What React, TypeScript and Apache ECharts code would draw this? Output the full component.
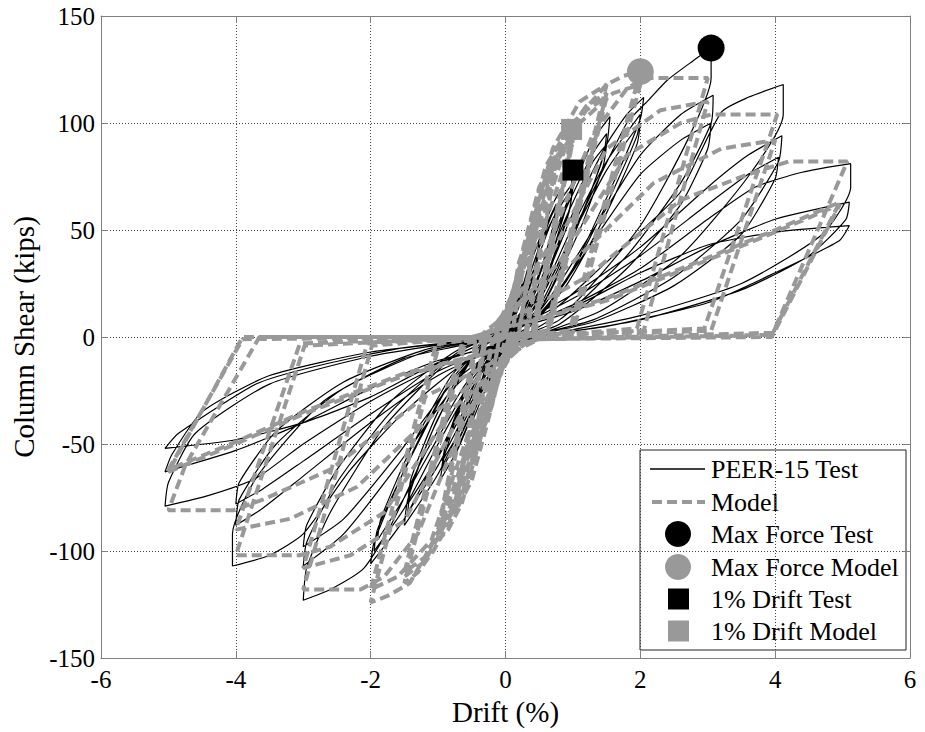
import React, { useEffect, useRef } from 'react';
import * as echarts from 'echarts';

// ---------- Data (drift %, column shear kips) ----------
const xTicks = [-6, -4, -2, 0, 2, 4, 6];
const yTicks = [-150, -100, -50, 0, 50, 100, 150];

const test025 = [[0,0],[0.1,12],[0.25,25],[0.2,16],[0.05,2],[-0.1,-10],[-0.25,-22],[-0.2,-14],[-0.05,-2]];
const test050 = [[0.15,12],[0.35,34],[0.5,45],[0.45,35],[0.2,8],[0,-1],[-0.2,-17],[-0.5,-40],[-0.45,-31],[-0.2,-6],[0,0],
  [0.2,15],[0.5,42],[0.45,32],[0.15,5],[-0.15,-10],[-0.5,-38],[-0.45,-29],[-0.15,-4]];
const test075 = [[0.1,8],[0.4,38],[0.75,62],[0.7,51],[0.35,15],[0,0],[-0.3,-22],[-0.75,-55],[-0.7,-45],[-0.3,-12],[0,0],
  [0.2,14],[0.5,42],[0.75,58],[0.7,47],[0.3,12],[0,0],[-0.35,-25],[-0.75,-52],[-0.7,-42],[-0.3,-10]];
const test100 = [[0,2],[0.3,28],[0.7,62],[1.0,78],[0.95,66],[0.5,22],[0.1,2],[-0.3,-22],[-0.7,-52],[-0.97,-67],[-0.9,-55],[-0.5,-18],[-0.1,-2],
  [0.3,25],[0.7,58],[1.0,72],[0.95,60],[0.5,20],[0.1,1],[-0.35,-24],[-0.7,-48],[-0.95,-62],[-0.88,-50],[-0.45,-15],[-0.1,-1],
  [0.3,22],[0.7,55],[1.0,70],[0.94,58],[0.5,18],[0.1,0],[-0.4,-26],[-0.75,-48],[-0.94,-58],[-0.86,-47],[-0.45,-14],[-0.1,-1]];
const test150 = [[0.3,15],[0.9,62],[1.3,92],[1.55,103],[1.5,90],[1.2,62],[0.6,18],[0.1,0],[-0.4,-26],[-1.0,-64],[-1.5,-88],[-1.45,-76],[-1.1,-45],[-0.5,-10],[0,-1],
  [0.3,14],[0.9,60],[1.3,86],[1.5,95],[1.45,84],[1.1,55],[0.5,14],[0,-2],[-0.5,-30],[-1.0,-60],[-1.45,-82],[-1.4,-70],[-1.0,-38],[-0.4,-6],
  [0.3,12],[0.9,56],[1.3,82],[1.5,90],[1.45,80],[1.1,50],[0.5,12],[0,-2],[-0.5,-28],[-1.0,-56],[-1.45,-78],[-1.4,-66],[-1.0,-35],[-0.4,-5]];
const test200 = [[0.4,15],[1.0,58],[1.5,90],[1.8,104],[2.05,112],[2.0,102],[1.6,72],[1.0,32],[0.4,6],[0,-2],[-0.5,-24],[-1.0,-55],[-1.5,-85],[-1.8,-98],[-2.0,-106],[-1.95,-96],[-1.5,-62],[-0.9,-25],[-0.3,-4],
  [0.4,13],[1.0,52],[1.5,82],[2.0,104],[1.95,94],[1.5,62],[0.9,26],[0.3,4],[0,-2],[-0.5,-22],[-1.0,-50],[-1.5,-80],[-1.95,-100],[-1.9,-90],[-1.4,-56],[-0.8,-20],[-0.3,-3],
  [0.4,12],[1.0,48],[1.5,78],[2.0,100],[1.95,90],[1.5,58],[0.9,24],[0.3,3],[0,-2],[-0.5,-20],[-1.0,-47],[-1.5,-75],[-1.9,-95],[-1.85,-85],[-1.4,-52],[-0.8,-18],[-0.3,-3]];
const test300 = [[0.5,18],[1.2,62],[1.8,100],[2.1,110],[2.4,120],[2.78,129],[3.05,135],[3.05,121],[2.7,92],[2.0,52],[1.0,15],[0.3,1],[-0.5,-18],[-1.2,-55],[-1.7,-88],[-2.1,-108],[-2.6,-118],[-3.0,-123],[-2.95,-108],[-2.6,-82],[-1.8,-42],[-0.8,-10],[-0.2,-1],
  [0.5,12],[1.3,50],[2.0,85],[2.6,104],[3.08,113],[3.05,100],[2.6,72],[1.8,38],[0.8,8],[0,-3],[-0.8,-25],[-1.6,-60],[-2.4,-92],[-3.0,-107],[-2.95,-96],[-2.5,-68],[-1.7,-35],[-0.7,-7],
  [0.5,10],[1.3,45],[2.0,76],[2.6,92],[3.05,100],[3.0,88],[2.6,62],[1.8,32],[0.8,6],[0,-3],[-0.8,-22],[-1.6,-55],[-2.4,-85],[-3.0,-98],[-2.95,-88],[-2.5,-62],[-1.7,-30],[-0.7,-6]];
const test400 = [[0.6,10],[1.5,35],[2.2,55],[2.6,68],[3.2,105],[3.6,112],[4.12,118],[4.12,104],[3.6,75],[2.6,38],[1.4,12],[0.3,-1],[-0.6,-12],[-1.5,-35],[-2.3,-62],[-3.0,-92],[-3.5,-102],[-4.05,-107],[-4.05,-92],[-3.7,-66],[-2.7,-30],[-1.5,-10],[-0.3,-1],
  [1.0,20],[2.0,42],[3.0,70],[3.6,85],[4.1,94],[4.05,82],[3.5,55],[2.5,28],[1.3,8],[0.2,-1],[-1.0,-18],[-2.0,-40],[-3.0,-65],[-3.6,-80],[-4.0,-88],[-3.95,-76],[-3.4,-50],[-2.4,-24],[-1.2,-7],[-0.2,0],
  [1.0,18],[2.0,38],[3.0,62],[3.6,76],[4.05,84],[4.0,74],[3.5,48],[2.5,24],[1.3,7],[0.2,-1],[-1.0,-16],[-2.0,-36],[-3.0,-58],[-3.6,-71],[-4.0,-78],[-3.95,-68],[-3.4,-44],[-2.4,-21],[-1.2,-6],[-0.2,0]];
const test500 = [[1.0,15],[2.0,32],[3.0,55],[3.7,70],[4.4,77],[5.12,81],[5.12,70],[4.7,48],[3.5,25],[2.0,10],[0.5,0],[-1.0,-14],[-2.0,-30],[-3.0,-50],[-3.7,-66],[-4.4,-74],[-5.05,-79],[-5.0,-68],[-4.6,-45],[-3.5,-22],[-2.0,-9],[-0.5,-1],
  [1.0,12],[2.0,26],[3.0,42],[4.0,55],[5.1,63],[5.05,55],[4.5,38],[3.5,22],[2.0,8],[0.5,0],[-1.0,-11],[-2.0,-24],[-3.0,-40],[-4.0,-53],[-5.05,-63],[-4.95,-55],[-4.5,-35],[-3.5,-18],[-2.0,-7],[-0.5,-1],
  [1.0,14],[2.0,30],[3.0,43],[4.0,49],[5.1,52],[4.95,45],[4.0,30],[3.0,16],[1.5,5],[0.3,0],[-1.0,-12],[-2.0,-28],[-3.0,-40],[-4.0,-48],[-5.05,-52],[-4.85,-45],[-3.7,-22],[-2.86,-14],[-1.5,-5],[0,0]];

const model025 = [[0,0],[0.1,16],[0.25,32],[0.1,2],[0,0],[-0.1,-15],[-0.25,-30],[-0.1,-2],[0,0],
  [0.1,15],[0.25,30],[0.1,2],[0,0],[-0.1,-14],[-0.25,-28],[-0.1,-2],[0,0]];
const model050 = [[0.2,35],[0.5,62],[0.2,3],[0.05,0],[-0.2,-32],[-0.5,-58],[-0.2,-3],[-0.05,0],
  [0.2,32],[0.5,60],[0.2,2],[0.05,0],[-0.2,-30],[-0.5,-56],[-0.2,-2],[-0.05,0],
  [0.2,30],[0.5,58],[0.2,2],[0.05,0],[-0.2,-28],[-0.5,-55],[-0.2,-2],[-0.05,0]];
const model075 = [[0.25,40],[0.5,70],[0.75,85],[0.3,3],[0.05,0],[-0.25,-38],[-0.5,-67],[-0.75,-82],[-0.3,-3],[-0.05,0],
  [0.28,40],[0.55,70],[0.75,82],[0.32,2],[0.05,0],[-0.28,-38],[-0.55,-67],[-0.75,-79],[-0.32,-2],[-0.05,0]];
const model100 = [[0.3,45],[0.6,80],[0.85,93],[1.0,97],[0.4,3],[0.1,0],[-0.35,-45],[-0.65,-78],[-0.85,-90],[-1.0,-95],[-0.4,-3],[-0.1,0],
  [0.32,44],[0.65,80],[1.0,94],[0.42,2],[0.1,0],[-0.35,-43],[-0.68,-77],[-1.0,-92],[-0.42,-2],[-0.1,0],
  [0.35,43],[0.7,80],[1.0,92],[0.44,2],[0.1,0],[-0.38,-42],[-0.7,-76],[-1.0,-90],[-0.44,-2],[-0.1,0]];
const model150 = [[0.35,45],[0.7,88],[1.1,110],[1.5,118],[0.6,3],[0.15,0],[-0.4,-42],[-0.75,-82],[-1.07,-100],[-1.3,-110],[-1.5,-115],[-0.6,-3],[-0.15,0],
  [0.4,45],[0.8,90],[1.2,108],[1.5,114],[0.62,2],[0.15,0],[-0.42,-42],[-0.8,-82],[-1.2,-105],[-1.5,-112],[-0.62,-2],[-0.15,0],
  [0.42,44],[0.85,90],[1.2,106],[1.5,112],[0.64,2],[0.15,0],[-0.45,-42],[-0.85,-82],[-1.2,-103],[-1.5,-110],[-0.64,-2],[-0.15,0]];
const model200 = [[0.5,50],[1.0,100],[1.5,118],[1.75,122],[2.0,124],[0.95,3],[0.2,0],[-0.5,-45],[-1.0,-92],[-1.42,-115],[-1.75,-121],[-2.0,-124],[-0.98,-3],[-0.2,0],
  [0.55,50],[1.1,100],[1.6,114],[2.0,118],[1.0,2],[0.2,0],[-0.55,-45],[-1.1,-95],[-1.6,-112],[-2.0,-118],[-1.02,-2],[-0.2,0]];
const model300 = [[0.6,40],[1.3,95],[1.8,116],[2.05,121],[3.0,121],[1.95,4],[0.3,0],[-0.6,-38],[-1.3,-92],[-1.8,-112],[-2.15,-118],[-3.0,-118],[-1.98,-4],[-0.3,0],
  [0.7,40],[1.5,88],[2.3,106],[3.0,110],[2.05,3],[0.3,0],[-0.7,-38],[-1.5,-86],[-2.3,-102],[-3.0,-108],[-2.05,-3],[-0.3,0]];
const model400 = [[0.8,35],[1.8,85],[2.6,100],[3.05,104],[4.03,104],[2.95,4],[0.4,0],[-0.8,-34],[-1.8,-82],[-2.6,-98],[-3.05,-102],[-4.0,-102],[-2.98,-4],[-0.4,0],
  [1.0,35],[2.2,72],[3.2,88],[4.0,92],[3.05,3],[0.4,0],[-1.0,-34],[-2.2,-70],[-3.2,-85],[-4.0,-90],[-3.05,-3],[-0.4,0]];
const model500 = [[1.2,28],[2.6,64],[3.6,76],[4.2,82],[5.07,82],[3.97,2],[0.5,-1],[-1.2,-28],[-2.6,-62],[-3.6,-76],[-4.04,-81],[-5.0,-81],[-4.75,-60],[-3.65,0],[-0.5,0],
  [1.5,18],[3.0,37],[4.0,50],[4.96,63],[3.95,1],[0.5,-1],[-1.5,-18],[-3.0,-36],[-4.0,-50],[-5.0,-63],[-3.9,0],[-0.5,0],
  [1.5,17],[3.0,36],[4.0,49],[4.96,62],[3.95,0],[0.5,-1],[-1.5,-17],[-3.0,-35],[-4.0,-49],[-5.0,-62],[-3.9,-1],[0,0]];

const maxForceTest = [[3.05, 135]];
const maxForceModel = [[2.0, 124]];
const driftTest = [[1.0, 78]];
const driftModel = [[0.98, 97]];

const legendNames = ['PEER-15 Test', 'Model', 'Max Force Test', 'Max Force Model', '1% Drift Test', '1% Drift Model'];

const FONT = '"Liberation Serif", "Times New Roman", serif';
const GREY = '#999999';

export default function App() {
  const ref = useRef<HTMLDivElement>(null);
  useEffect(() => {
    document.body.style.margin = '0';
    const chart = echarts.init(ref.current as HTMLDivElement, null, { renderer: 'svg' });
    const testData = [...test025, ...test050, ...test075, ...test100, ...test150, ...test200, ...test300, ...test400, ...test500];
    const modelData = [...model025, ...model050, ...model075, ...model100, ...model150, ...model200, ...model300, ...model400, ...model500];
    const axisCommon = {
      type: 'value' as const,
      axisLine: { show: true, onZero: false, lineStyle: { color: '#808080', width: 1 } },
      axisTick: { show: true, inside: true, length: 7, lineStyle: { color: '#808080' } },
    };
    const rowY = [469, 502, 534, 567, 599, 631];
    const option: any = {
      animation: false,
      backgroundColor: '#fff',
      grid: { left: 101, right: 15, top: 16, bottom: 74 },
      xAxis: [
        {
          ...axisCommon, min: -6, max: 6, interval: 2, position: 'bottom',
          name: 'Drift (%)', nameLocation: 'middle', nameGap: 39,
          nameTextStyle: { fontFamily: FONT, fontSize: 29, color: '#000' },
          axisLabel: { fontFamily: FONT, fontSize: 25, color: '#000', margin: 9,
            formatter: (v: number) => (xTicks.includes(v) ? String(v) : '') },
          splitLine: { show: true, lineStyle: { type: [1, 2], color: '#444', width: 1 } },
        },
        { ...axisCommon, min: -6, max: 6, interval: 2, position: 'top', axisLabel: { show: false }, splitLine: { show: false } },
      ],
      yAxis: [
        {
          ...axisCommon, min: -150, max: 150, interval: 50, position: 'left',
          name: 'Column Shear (kips)', nameLocation: 'middle', nameGap: 62,
          nameTextStyle: { fontFamily: FONT, fontSize: 29, color: '#000' },
          axisLabel: { fontFamily: FONT, fontSize: 25, color: '#000', margin: 6,
            formatter: (v: number) => (yTicks.includes(v) ? String(v) : '') },
          splitLine: { show: true, lineStyle: { type: [1, 2], color: '#444', width: 1 } },
        },
        { ...axisCommon, min: -150, max: 150, interval: 50, position: 'right', axisLabel: { show: false }, splitLine: { show: false } },
      ],
      series: [
        {
          name: legendNames[0], type: 'line', data: testData, symbol: 'none', smooth: 0.2, z: 2,
          lineStyle: { color: '#000', width: 1.2 },
        },
        {
          name: legendNames[1], type: 'line', data: modelData, symbol: 'none', smooth: false, z: 3,
          lineStyle: { color: GREY, width: 4, type: [10, 5] },
        },
        { name: legendNames[2], type: 'scatter', data: maxForceTest, symbol: 'circle', symbolSize: 27, itemStyle: { color: '#000', opacity: 1 }, z: 5 },
        { name: legendNames[3], type: 'scatter', data: maxForceModel, symbol: 'circle', symbolSize: 27, itemStyle: { color: GREY, opacity: 1 }, z: 5 },
        { name: legendNames[4], type: 'scatter', data: driftTest, symbol: 'rect', symbolSize: 21, itemStyle: { color: '#000', opacity: 1 }, z: 5 },
        { name: legendNames[5], type: 'scatter', data: driftModel, symbol: 'rect', symbolSize: 21, itemStyle: { color: GREY, opacity: 1 }, z: 5 },
      ],
      graphic: [
        {
          type: 'group', z: 100,
          children: [
            { type: 'rect', shape: { x: 640, y: 450, width: 266, height: 200 }, style: { fill: '#fff', stroke: '#222', lineWidth: 1 } },
            { type: 'line', shape: { x1: 650, y1: rowY[0], x2: 705, y2: rowY[0] }, style: { stroke: '#000', lineWidth: 1.3 } },
            { type: 'line', shape: { x1: 652, y1: rowY[1], x2: 705, y2: rowY[1] }, style: { stroke: GREY, lineWidth: 4, lineDash: [10, 5] } },
            { type: 'circle', shape: { cx: 678, cy: rowY[2], r: 13 }, style: { fill: '#000' } },
            { type: 'circle', shape: { cx: 678, cy: rowY[3], r: 13 }, style: { fill: GREY } },
            { type: 'rect', shape: { x: 668, y: rowY[4] - 10.5, width: 21, height: 21 }, style: { fill: '#000' } },
            { type: 'rect', shape: { x: 668, y: rowY[5] - 10.5, width: 21, height: 21 }, style: { fill: GREY } },
            ...legendNames.map((t, i) => ({
              type: 'text', x: 711, y: rowY[i],
              style: { text: t, fontFamily: FONT, fontSize: 26, fill: '#000', verticalAlign: 'middle', align: 'left' },
            })),
          ],
        },
      ],
    };
    chart.setOption(option);
    return () => chart.dispose();
  }, []);
  return <div ref={ref} style={{ position: 'absolute', left: 0, top: 0, width: 925, height: 732 }} />;
}
